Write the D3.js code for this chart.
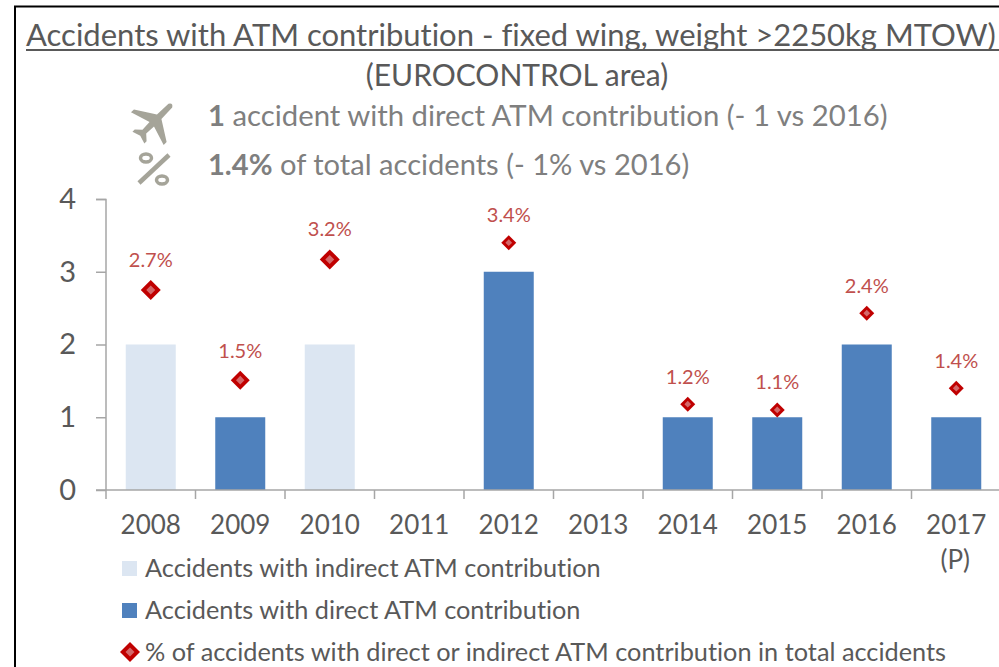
<!DOCTYPE html>
<html>
<head>
<meta charset="utf-8">
<script src="https://cdn.jsdelivr.net/npm/d3@7"></script>
<style>
html, body { margin: 0; padding: 0; background: #fff; }
svg { display: block; font-family: Lato, sans-serif; font-variant-ligatures: none; }
</style>
</head>
<body>
<svg id="chart" width="999" height="667"></svg>
<script>
// Values
var years = ["2008", "2009", "2010", "2011", "2012", "2013", "2014", "2015", "2016", "2017"];
var indirect = [2, 0, 2, 0, 0, 0, 0, 0, 0, 0];
var direct = [0, 1, 0, 0, 3, 0, 1, 1, 2, 1];
var pct = [2.75, 1.51, 3.17, null, 3.4, null, 1.18, 1.1, 2.43, 1.4];
var pctLabels = ["2.7%", "1.5%", "3.2%", "", "3.4%", "", "1.2%", "1.1%", "2.4%", "1.4%"];
var yTicks = [0, 1, 2, 3, 4];
var legendLabels = [
    "Accidents with indirect ATM contribution",
    "Accidents with direct ATM contribution",
    "% of accidents with direct or indirect ATM contribution in total accidents"
];

var svg = d3.select("#chart");

var x = d3.scaleBand().domain(years).range([106, 1001]).paddingInner(0).paddingOuter(0);
var y = d3.scaleLinear().domain([0, 4]).range([490, 199]);
var barWidth = 50;

// half width of each diamond, they are not all the same size in the original
var markerRadius = { "2008": 10, "2009": 9.5, "2010": 10, "2012": 7.5, "2014": 7.5, "2015": 7.5, "2016": 7.5, "2017": 7.5 };

var lightBlue = "#dce6f2";
var blue = "#4f81bd";
var red = "#c00000";
var textGrey = "#595959";
var infoGrey = "#7f7f7f";
var axisGrey = "#a6a6a6";
var iconGrey = "#a5a499";

// Frame round the slide
svg.append("path")
    .attr("d", "M15,667V6.5H999")
    .attr("fill", "none")
    .attr("stroke", "#000")
    .attr("stroke-width", 2);

// Title block
svg.append("text")
    .attr("x", 26).attr("y", 46)
    .attr("font-size", 31).attr("fill", textGrey)
    .text("Accidents with ATM contribution - fixed wing, weight >2250kg MTOW)");
svg.append("line")
    .attr("x1", 26).attr("x2", 999).attr("y1", 50).attr("y2", 50)
    .attr("stroke", textGrey).attr("stroke-width", 2);
svg.append("text")
    .attr("x", 517).attr("y", 86)
    .attr("text-anchor", "middle")
    .attr("font-size", 30).attr("fill", textGrey)
    .text("(EUROCONTROL area)");

// Key figures
var line1 = svg.append("text").attr("x", 208).attr("y", 126)
    .attr("font-size", 29.3).attr("fill", infoGrey);
line1.append("tspan").attr("font-weight", 700).text("1");
line1.append("tspan").text(" accident with direct ATM contribution (- 1 vs 2016)");
var line2 = svg.append("text").attr("x", 208).attr("y", 175)
    .attr("font-size", 29.1).attr("fill", infoGrey);
line2.append("tspan").attr("font-weight", 700).text("1.4%");
line2.append("tspan").text(" of total accidents (- 1% vs 2016)");

// Plane icon
svg.append("path")
    .attr("transform", "translate(154,122) rotate(45) scale(1.05)")
    .attr("fill", iconGrey)
    .attr("d", "M-2.5,-22 Q0,-26 2.5,-22 L3,-7 L22,5 L22,9 L3,3 L2.5,13 L8,18 L8,21 L0,18.5 L-8,21 L-8,18 L-2.5,13 L-3,3 L-22,9 L-22,5 L-3,-7 Z");

// Percent icon
var iconG = svg.append("g").attr("fill", "none").attr("stroke", iconGrey);
iconG.append("line")
    .attr("x1", 139).attr("y1", 183).attr("x2", 169).attr("y2", 155)
    .attr("stroke-width", 4.5);
iconG.append("ellipse").attr("cx", 146).attr("cy", 158)
    .attr("rx", 5.5).attr("ry", 4).attr("stroke-width", 3.5);
iconG.append("ellipse").attr("cx", 162).attr("cy", 180)
    .attr("rx", 5.5).attr("ry", 4).attr("stroke-width", 3.5);

// Bars
function drawBars(values, color) {
    svg.append("g").selectAll("rect")
        .data(years)
        .enter().append("rect")
        .attr("x", function(d) { return x(d) + x.bandwidth() / 2 - barWidth / 2; })
        .attr("y", function(d, i) { return y(values[i]); })
        .attr("width", barWidth)
        .attr("height", function(d, i) { return y(0) - y(values[i]); })
        .attr("fill", color);
}
drawBars(indirect, lightBlue);
drawBars(direct, blue);

// Y axis
var yAxis = svg.append("g")
    .attr("transform", "translate(106,0)")
    .call(d3.axisLeft(y).tickValues(yTicks).tickFormat(d3.format("d")).tickSize(10).tickPadding(20));
yAxis.selectAll("path, line").attr("stroke", axisGrey).attr("stroke-width", 1.5);
yAxis.selectAll("text")
    .attr("font-size", 29).attr("font-family", "Lato, sans-serif").attr("fill", textGrey);
yAxis.select(".domain").attr("d", "M-10,199.5H0V490");

// X axis, the ticks sit between the categories
var xAxis = svg.append("g")
    .attr("transform", "translate(0,490)")
    .call(d3.axisBottom(x).tickSize(0).tickPadding(26));
xAxis.select(".domain").attr("d", "M96,0H999").attr("stroke", axisGrey).attr("stroke-width", 1.5);
xAxis.selectAll("text")
    .attr("font-size", 26).attr("font-family", "Lato, sans-serif").attr("fill", textGrey);
svg.append("g").selectAll("line")
    .data(years)
    .enter().append("line")
    .attr("x1", function(d) { return x(d); })
    .attr("x2", function(d) { return x(d); })
    .attr("y1", 490).attr("y2", 499)
    .attr("stroke", axisGrey).attr("stroke-width", 1.5);
svg.append("text")
    .attr("x", x("2017") + x.bandwidth() / 2 - 1).attr("y", 569)
    .attr("text-anchor", "middle")
    .attr("font-size", 26).attr("fill", textGrey)
    .text("(P)");

// Diamond of half width r, as a rotated square
function diamondPath(r) { return d3.symbol().type(d3.symbolSquare).size(2 * r * r)(); }

// Diamonds and their labels
var shown = years.filter(function(d, i) { return pct[i] !== null; });
var markers = svg.append("g").selectAll("g")
    .data(shown)
    .enter().append("g")
    .attr("transform", function(d) {
        return "translate(" + (x(d) + x.bandwidth() / 2) + "," + y(pct[years.indexOf(d)]) + ")";
    });
markers.append("path")
    .attr("d", function(d) { return diamondPath(markerRadius[d]); })
    .attr("transform", "rotate(45)")
    .attr("fill", red);
markers.append("path")
    .attr("d", function(d) { return diamondPath(markerRadius[d] * 0.45); })
    .attr("transform", "rotate(45)")
    .attr("fill", "#d4686a");
markers.append("text")
    .attr("y", function(d) { return -(markerRadius[d] + 13); })
    .attr("text-anchor", "middle")
    .attr("font-size", 20).attr("fill", "#c0504d")
    .text(function(d) { return pctLabels[years.indexOf(d)]; });

// Legend
var legendY = [568, 610, 652];
var legend = svg.append("g").selectAll("g")
    .data(legendLabels)
    .enter().append("g")
    .attr("transform", function(d, i) { return "translate(130," + legendY[i] + ")"; });
legend.append("text")
    .attr("x", 15).attr("y", 9)
    .attr("font-size", 25.3).attr("fill", textGrey)
    .text(function(d) { return d; });
legend.filter(function(d, i) { return i < 2; }).append("rect")
    .attr("x", -8).attr("y", -7).attr("width", 15).attr("height", 15)
    .attr("fill", function(d, i) { return i === 0 ? lightBlue : blue; });
var legendMark = legend.filter(function(d, i) { return i === 2; });
legendMark.append("path").attr("d", diamondPath(10)).attr("transform", "rotate(45)").attr("fill", red);
legendMark.append("path").attr("d", diamondPath(4.5)).attr("transform", "rotate(45)").attr("fill", "#d4686a");
</script>
</body>
</html>
